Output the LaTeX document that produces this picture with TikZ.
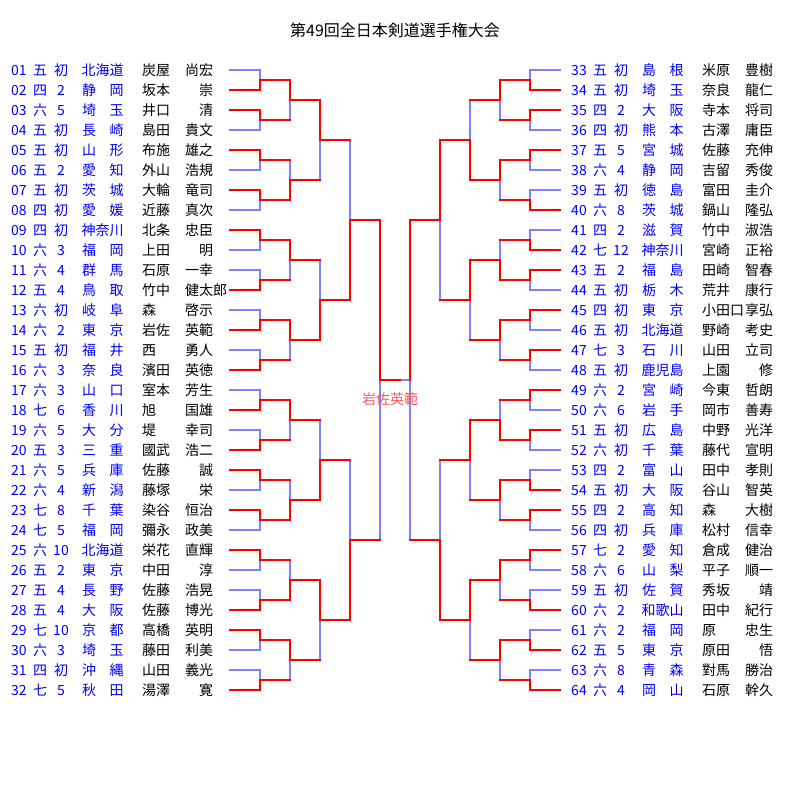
\documentclass[tikz,border=0pt]{standalone}
\usepackage{fontspec}
\newfontfamily\cjk{Noto Sans CJK JP}
\pgfdeclarelayer{bl}
\pgfsetlayers{bl,main}
\definecolor{wincol}{RGB}{255,0,0}
\definecolor{losecol}{RGB}{128,128,255}
\definecolor{txtblue}{RGB}{0,0,255}
\definecolor{champcol}{RGB}{240,90,90}
\tikzset{
  win/.style={draw=wincol,line width=2.5pt,line cap=rect},
  lose/.style={draw=losecol,line width=2.5pt,line cap=rect},
  lbl/.style={inner sep=0pt,font=\cjk\fontsize{14}{14}\selectfont},
  blu/.style={lbl,text=txtblue,anchor=base},
  blk/.style={lbl,text=black,anchor=base west},
}
\newcommand\segr[2]{\draw[win] (#1) -- (#2);}
\newcommand\segb[2]{\begin{pgfonlayer}{bl}\draw[lose] (#1) -- (#2);\end{pgfonlayer}}
% #1 prefix, #2 base x, #3 dir, #4 round, #5 match index, #6 winner (0 top, 1 bottom)
\newcommand\bm[6]{%
  \pgfmathsetmacro\xp{#2+#3*30*(#4-1)}%
  \pgfmathsetmacro\xj{#2+#3*30*#4}%
  \pgfmathsetmacro\nn{2^(#4-1)}%
  \pgfmathsetmacro\yt{70+40*#5*\nn+10*(\nn-1)}%
  \pgfmathsetmacro\yb{\yt+20*\nn}%
  \pgfmathsetmacro\ym{(\yt+\yb)/2}%
  \coordinate (#1#4-#5a) at (\xp,\yt);
  \coordinate (#1#4-#5b) at (\xp,\yb);
  \coordinate (#1#4-#5c) at (\xj,\yt);
  \coordinate (#1#4-#5d) at (\xj,\yb);
  \coordinate (#1#4-#5m) at (\xj,\ym);
  \ifnum#4=1
    \ifnum#6=0 \segr{#1#4-#5a}{#1#4-#5c}\segb{#1#4-#5b}{#1#4-#5d}%
    \else \segb{#1#4-#5a}{#1#4-#5c}\segr{#1#4-#5b}{#1#4-#5d}\fi
  \else
    \segr{#1#4-#5a}{#1#4-#5c}\segr{#1#4-#5b}{#1#4-#5d}%
  \fi
  \ifnum#6=0 \segr{#1#4-#5c}{#1#4-#5m}\segb{#1#4-#5d}{#1#4-#5m}%
  \else \segb{#1#4-#5c}{#1#4-#5m}\segr{#1#4-#5d}{#1#4-#5m}\fi
}
% #1 index, #2 rank, #3 dan, #4 pref1, #5 pref2, #6 surname, #7 given
\newcommand\ent[7]{%
  \pgfmathsetmacro\ox{(#1>32)*560}%
  \pgfmathsetmacro\yy{75+20*mod(#1-1,32)}%
  \node[blu] (n#1) at (\ox+19,\yy) {\ifnum#1<10 0\fi#1};
  \node[blu] (r#1) at (\ox+40,\yy) {#2};
  \node[blu] (d#1) at (\ox+61,\yy) {#3};
  \ifx\relax#5\relax
    \node[blu] (p#1) at (\ox+102.5,\yy) {#4};
  \else
    \node[blu] (p#1) at (\ox+89,\yy) {#4};
    \node[blu] (q#1) at (\ox+116.5,\yy) {#5};
  \fi
  \node[blk] (s#1) at (\ox+142,\yy) {#6};
  \node[blk] (g#1) at (\ox+185,\yy) {#7};
}
\begin{document}
\begin{tikzpicture}[x=1pt,y=-1pt]
\useasboundingbox (0,0) rectangle (800,800);
\node[lbl,font=\cjk\fontsize{16}{16}\selectfont,anchor=base] (title) at (395,37) {第49回全日本剣道選手権大会};
% left bracket
\foreach \w [count=\k from 0] in {1,0,0,0,0,1,1,1,1,1,0,0,0,1,0,1} {\bm{L}{230}{1}{1}{\k}{\w}}
\foreach \w [count=\k from 0] in {0,1,0,0,0,1,1,0} {\bm{L}{230}{1}{2}{\k}{\w}}
\foreach \w [count=\k from 0] in {0,1,1,0} {\bm{L}{230}{1}{3}{\k}{\w}}
\foreach \w [count=\k from 0] in {1,1} {\bm{L}{230}{1}{4}{\k}{\w}}
\bm{L}{230}{1}{5}{0}{0}
% right bracket
\foreach \w [count=\k from 0] in {1,0,0,1,1,0,0,0,0,0,1,0,0,1,1,1} {\bm{R}{560}{-1}{1}{\k}{\w}}
\foreach \w [count=\k from 0] in {0,0,1,0,1,0,0,0} {\bm{R}{560}{-1}{2}{\k}{\w}}
\foreach \w [count=\k from 0] in {1,0,0,0} {\bm{R}{560}{-1}{3}{\k}{\w}}
\foreach \w [count=\k from 0] in {0,1} {\bm{R}{560}{-1}{4}{\k}{\w}}
\bm{R}{560}{-1}{5}{0}{0}
% final
\coordinate (F) at (400,380);
\segr{L5-0m}{F}
\segb{F}{R5-0m}
\node[lbl,text=champcol,anchor=base] (champ) at (390,404) {岩佐英範};
% entries
\ent{1}{五}{初}{北海道}{}{炭屋}{尚宏}
\ent{2}{四}{2}{静}{岡}{坂本}{　崇}
\ent{3}{六}{5}{埼}{玉}{井口}{　清}
\ent{4}{五}{初}{長}{崎}{島田}{貴文}
\ent{5}{五}{初}{山}{形}{布施}{雄之}
\ent{6}{五}{2}{愛}{知}{外山}{浩規}
\ent{7}{五}{初}{茨}{城}{大輪}{竜司}
\ent{8}{四}{初}{愛}{媛}{近藤}{真次}
\ent{9}{四}{初}{神奈川}{}{北条}{忠臣}
\ent{10}{六}{3}{福}{岡}{上田}{　明}
\ent{11}{六}{4}{群}{馬}{石原}{一幸}
\ent{12}{五}{4}{鳥}{取}{竹中}{健太郎}
\ent{13}{六}{初}{岐}{阜}{森}{啓示}
\ent{14}{六}{2}{東}{京}{岩佐}{英範}
\ent{15}{五}{初}{福}{井}{西}{勇人}
\ent{16}{六}{3}{奈}{良}{濱田}{英徳}
\ent{17}{六}{3}{山}{口}{室本}{芳生}
\ent{18}{七}{6}{香}{川}{旭}{国雄}
\ent{19}{六}{5}{大}{分}{堤}{幸司}
\ent{20}{五}{3}{三}{重}{國武}{浩二}
\ent{21}{六}{5}{兵}{庫}{佐藤}{　誠}
\ent{22}{六}{4}{新}{潟}{藤塚}{　栄}
\ent{23}{七}{8}{千}{葉}{染谷}{恒治}
\ent{24}{七}{5}{福}{岡}{彌永}{政美}
\ent{25}{六}{10}{北海道}{}{栄花}{直輝}
\ent{26}{五}{2}{東}{京}{中田}{　淳}
\ent{27}{五}{4}{長}{野}{佐藤}{浩晃}
\ent{28}{五}{4}{大}{阪}{佐藤}{博光}
\ent{29}{七}{10}{京}{都}{高橋}{英明}
\ent{30}{六}{3}{埼}{玉}{藤田}{利美}
\ent{31}{四}{初}{沖}{縄}{山田}{義光}
\ent{32}{七}{5}{秋}{田}{湯澤}{　寛}
\ent{33}{五}{初}{島}{根}{米原}{豊樹}
\ent{34}{五}{初}{埼}{玉}{奈良}{龍仁}
\ent{35}{四}{2}{大}{阪}{寺本}{将司}
\ent{36}{四}{初}{熊}{本}{古澤}{庸臣}
\ent{37}{五}{5}{宮}{城}{佐藤}{充伸}
\ent{38}{六}{4}{静}{岡}{吉留}{秀俊}
\ent{39}{五}{初}{徳}{島}{富田}{圭介}
\ent{40}{六}{8}{茨}{城}{鍋山}{隆弘}
\ent{41}{四}{2}{滋}{賀}{竹中}{淑浩}
\ent{42}{七}{12}{神奈川}{}{宮崎}{正裕}
\ent{43}{五}{2}{福}{島}{田崎}{智春}
\ent{44}{五}{初}{栃}{木}{荒井}{康行}
\ent{45}{四}{初}{東}{京}{小田口}{享弘}
\ent{46}{五}{初}{北海道}{}{野崎}{考史}
\ent{47}{七}{3}{石}{川}{山田}{立司}
\ent{48}{五}{初}{鹿児島}{}{上園}{　修}
\ent{49}{六}{2}{宮}{崎}{今東}{哲朗}
\ent{50}{六}{6}{岩}{手}{岡市}{善寿}
\ent{51}{五}{初}{広}{島}{中野}{光洋}
\ent{52}{六}{初}{千}{葉}{藤代}{宣明}
\ent{53}{四}{2}{富}{山}{田中}{孝則}
\ent{54}{五}{初}{大}{阪}{谷山}{智英}
\ent{55}{四}{2}{高}{知}{森}{大樹}
\ent{56}{四}{初}{兵}{庫}{松村}{信幸}
\ent{57}{七}{2}{愛}{知}{倉成}{健治}
\ent{58}{六}{6}{山}{梨}{平子}{順一}
\ent{59}{五}{初}{佐}{賀}{秀坂}{　靖}
\ent{60}{六}{2}{和歌山}{}{田中}{紀行}
\ent{61}{六}{2}{福}{岡}{原}{忠生}
\ent{62}{五}{5}{東}{京}{原田}{　悟}
\ent{63}{六}{8}{青}{森}{對馬}{勝治}
\ent{64}{六}{4}{岡}{山}{石原}{幹久}
\end{tikzpicture}
\end{document}
